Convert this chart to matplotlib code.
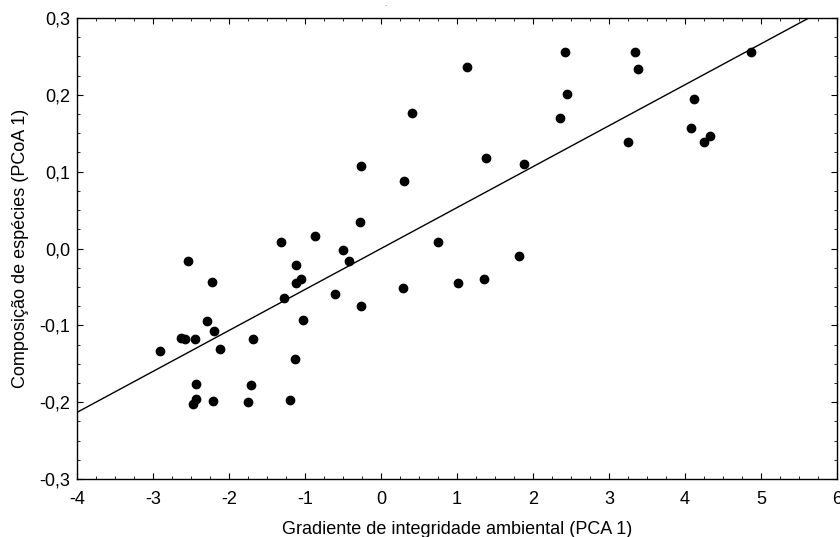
import matplotlib
matplotlib.use("Agg")
import matplotlib.pyplot as plt
import numpy as np
from matplotlib.ticker import MultipleLocator, FuncFormatter

plt.rcParams['font.family'] = ['Liberation Sans', 'DejaVu Sans']

pca1 = [-2.544, 0.404, -0.263, 0.307, -0.276, -1.311, -0.864, -0.496, -0.425, -1.114,
        1.132, 2.425, 3.346, 3.377, 4.864, 2.443, 2.351, 4.123, 4.079, 4.333,
        4.254, 3.25, 1.377, 1.882, 0.754, 1.82, 1.017, 1.359, -2.224, -1.123,
        -1.057, -1.28, -0.601, 0.294, -0.267, -1.022, -2.294, -2.197, -2.632, -2.579,
        -2.452, -1.68, -2.904, -2.118, -1.132, -2.438, -1.711, -2.438, -2.474, -2.211,
        -1.754, -1.197]
pcoa1 = [-0.016, 0.177, 0.107, 0.088, 0.035, 0.009, 0.016, -0.002, -0.016, -0.022,
         0.236, 0.256, 0.256, 0.234, 0.256, 0.201, 0.170, 0.195, 0.157, 0.147,
         0.138, 0.139, 0.118, 0.110, 0.009, -0.010, -0.045, -0.040, -0.043, -0.045,
         -0.040, -0.064, -0.059, -0.051, -0.075, -0.093, -0.095, -0.108, -0.117, -0.118,
         -0.118, -0.118, -0.133, -0.131, -0.144, -0.176, -0.178, -0.196, -0.203, -0.199,
         -0.200, -0.197]

x = np.array(pca1)
y = np.array(pcoa1)
slope, intercept = np.polyfit(x, y, 1)

fig = plt.figure(figsize=(8.4, 5.37), dpi=100)
ax = fig.add_axes([77/840, 1-479/537, 760/840, 461/537])

xl = np.array([-4, 6])
ax.plot(xl, slope*xl + intercept, color='black', lw=1.0)
ax.plot(x, y, 'o', color='black', ms=6.0, mec='black')

ax.set_xlim(-4, 6)
ax.set_ylim(-0.3, 0.3)
ax.xaxis.set_major_locator(MultipleLocator(1))
ax.xaxis.set_minor_locator(MultipleLocator(0.25))
ax.yaxis.set_major_locator(MultipleLocator(0.1))
ax.yaxis.set_minor_locator(MultipleLocator(0.025))
ax.xaxis.set_major_formatter(FuncFormatter(lambda v, p: f"{v:.0f}"))
ax.yaxis.set_major_formatter(FuncFormatter(lambda v, p: (f"{v:.1f}" if abs(v) > 1e-9 else "0,0").replace('.', ',')))
ax.tick_params(which='both', direction='in', top=True, right=True, labelsize=13, colors='black')
ax.tick_params(which='major', length=4, width=0.8, pad=5)
ax.tick_params(axis='x', which='major', pad=9)
ax.tick_params(which='minor', length=2.5, width=0.6)
for s in ax.spines.values():
    s.set_linewidth(1.0)

ax.set_xlabel('Gradiente de integridade ambiental (PCA 1)', fontsize=13, labelpad=9)
ax.set_ylabel('Composição de espécies (PCoA 1)', fontsize=13, labelpad=7)
fig.text(386/840, 1-6/537, '-', fontsize=5, color='#888888', ha='center', va='center')

fig.savefig('out.png', dpi=100)
